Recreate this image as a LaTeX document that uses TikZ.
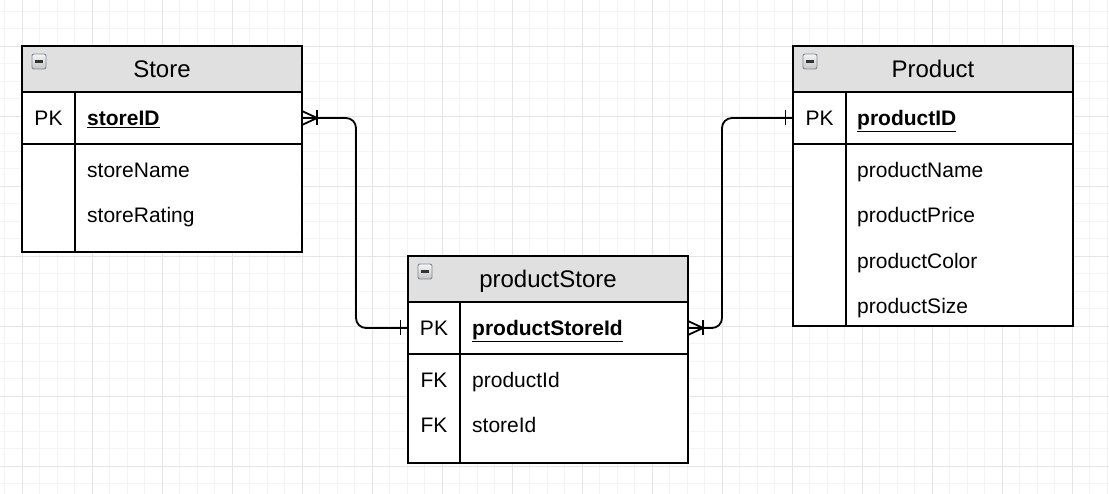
\documentclass[tikz,border=0pt]{standalone}
\usepackage{fontspec}
\setmainfont{Liberation Sans}
\usetikzlibrary{positioning}
\definecolor{headgray}{HTML}{E0E0E0}
\definecolor{minorgrid}{HTML}{F4F4F4}
\definecolor{majorgrid}{HTML}{E4E4E4}
\definecolor{btnborder}{HTML}{7E8893}
\definecolor{minusgray}{HTML}{333333}

\begin{document}
\begin{tikzpicture}[
    x=1pt, y=-1pt,
    head/.style={rectangle, draw, fill=headgray, line width=1.8pt, minimum width=280pt, minimum height=46pt, outer sep=0pt, text height=17pt, text depth=0pt, font=\fontsize{24}{28}\selectfont},
    pkrow/.style={rectangle, draw, fill=white, line width=1.8pt, minimum width=280pt, minimum height=52pt, outer sep=0pt},
    body/.style={rectangle, draw, fill=white, line width=1.8pt, minimum width=280pt, outer sep=0pt},
    keylabel/.style={inner sep=0pt, text height=15pt, text depth=0pt, font=\fontsize{21}{25}\selectfont},
    field/.style={anchor=west, inner sep=0pt, text height=15pt, text depth=0pt, font=\fontsize{21}{25}\selectfont},
    pkfield/.style={field, font=\fontsize{21}{25}\selectfont\bfseries},
    collapse/.style={rectangle, rounded corners=2pt, draw=btnborder, line width=0.9pt, top color=gray!8, bottom color=gray!45, minimum width=14pt, minimum height=15pt, inner sep=0pt},
    divider/.style={line width=1.8pt},
    rel/.style={line width=1.8pt, rounded corners=10pt},
    tick/.style={line width=1.8pt},
    manyend/.pic={\draw[tick] (0pt,7pt) -- (15pt,0pt) -- (0pt,-7pt);
                  \draw[tick] (15pt,7.5pt) -- (15pt,-7.5pt);},
    oneend/.pic={\draw[tick] (-7.5pt,7.5pt) -- (-7.5pt,-7.5pt);}
]

\useasboundingbox (0,0) rectangle (1109,494);

% Background grid
\draw[minorgrid, line width=0.8pt, step=17.5pt, shift={(4.5,11)}] (-4.5,-11) grid (1104.5,483);
\draw[majorgrid, line width=0.8pt, step=70pt, shift={(22,46)}] (-22,-46) grid (1087,448);

% Store table
\node[head] (storehead) at (162,69) {Store};
\node[pkrow, below=0pt of storehead] (storepk) {};
\node[body, minimum height=108pt, below=0pt of storepk] (storebody) {};
\draw[divider] ([xshift=53pt]storepk.north west) -- ([xshift=53pt]storebody.south west);
\node[collapse] (storebtn) at ([xshift=17pt,yshift=-15.5pt]storehead.north west) {\textcolor{minusgray}{\rule{8pt}{2.6pt}}};
\node[keylabel] (storepkkey) at ([xshift=26.5pt]storepk.west) {PK};
\node[pkfield] (storeid) at ([xshift=65pt]storepk.west) {\underline{storeID}};
\node[field] (storename) at ([xshift=65pt,yshift=-26pt]storebody.north west) {storeName};
\node[field] (storerating) at ([xshift=65pt,yshift=-71pt]storebody.north west) {storeRating};

% productStore table
\node[head] (pshead) at (548,279) {productStore};
\node[pkrow, below=0pt of pshead] (pspk) {};
\node[body, minimum height=109pt, below=0pt of pspk] (psbody) {};
\draw[divider] ([xshift=52pt]pspk.north west) -- ([xshift=52pt]psbody.south west);
\node[collapse] (psbtn) at ([xshift=17pt,yshift=-15.5pt]pshead.north west) {\textcolor{minusgray}{\rule{8pt}{2.6pt}}};
\node[keylabel] (pspkkey) at ([xshift=26pt]pspk.west) {PK};
\node[pkfield] (psid) at ([xshift=64pt]pspk.west) {\underline{productStoreId}};
\node[keylabel] (psfkone) at ([xshift=26pt,yshift=-26pt]psbody.north west) {FK};
\node[field] (psprodid) at ([xshift=64pt,yshift=-26pt]psbody.north west) {productId};
\node[keylabel] (psfktwo) at ([xshift=26pt,yshift=-71pt]psbody.north west) {FK};
\node[field] (psstoreid) at ([xshift=64pt,yshift=-71pt]psbody.north west) {storeId};

% Product table
\node[head] (prodhead) at (933,69) {Product};
\node[pkrow, below=0pt of prodhead] (prodpk) {};
\node[body, minimum height=182pt, below=0pt of prodpk] (prodbody) {};
\draw[divider] ([xshift=53pt]prodpk.north west) -- ([xshift=53pt]prodbody.south west);
\node[collapse] (prodbtn) at ([xshift=17pt,yshift=-15.5pt]prodhead.north west) {\textcolor{minusgray}{\rule{8pt}{2.6pt}}};
\node[keylabel] (prodpkkey) at ([xshift=26.5pt]prodpk.west) {PK};
\node[pkfield] (prodid) at ([xshift=64pt]prodpk.west) {\underline{productID}};
\node[field] (prodname) at ([xshift=64pt,yshift=-26pt]prodbody.north west) {productName};
\node[field] (prodprice) at ([xshift=64pt,yshift=-71pt]prodbody.north west) {productPrice};
\node[field] (prodcolor) at ([xshift=64pt,yshift=-117pt]prodbody.north west) {productColor};
\node[field] (prodsize) at ([xshift=64pt,yshift=-162pt]prodbody.north west) {productSize};

% Relations
\draw[rel] (storepk.east) -- ++(54pt,0pt) |- (pspk.west);
\draw[rel] (pspk.east) -- ++(34pt,0pt) |- (prodpk.west);
\pic at (storepk.east) {manyend};
\pic at (pspk.west) {oneend};
\pic at (pspk.east) {manyend};
\pic at (prodpk.west) {oneend};

\end{tikzpicture}
\end{document}
